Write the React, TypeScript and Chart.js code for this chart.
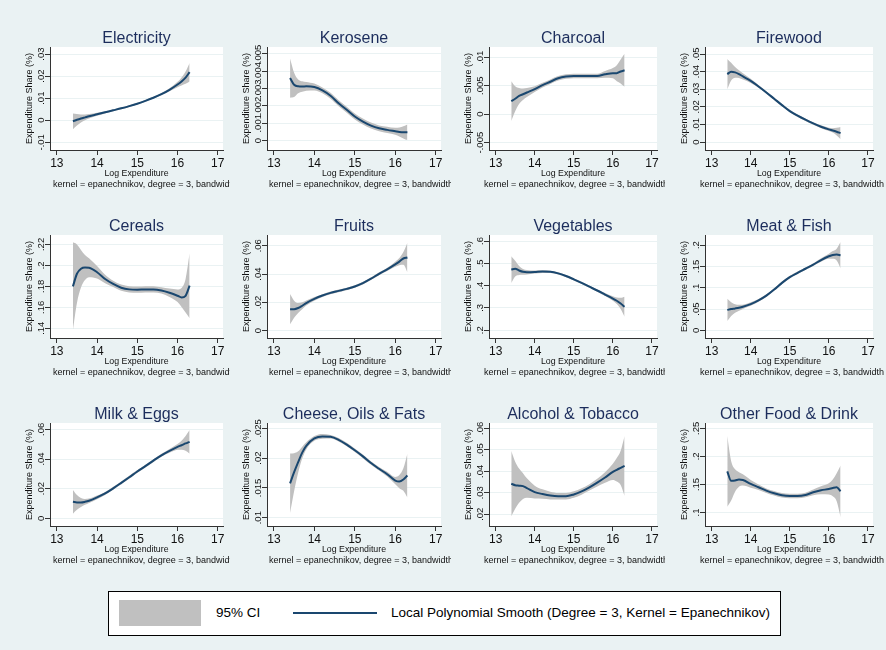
import React, { useEffect, useRef } from "react";
import { Chart, registerables } from "chart.js";

Chart.register(...registerables);

// ---------- data ----------
const logExpenditure = [13.4, 13.5, 13.6, 13.7, 13.8, 14.0, 14.2, 14.4, 14.6, 14.8, 15.0, 15.2, 15.4, 15.6, 15.8, 16.0, 16.1, 16.2, 16.3];
const xTickValues = [13, 14, 15, 16, 17];

const electricityShare = [-0.0005, 0.0002, 0.0008, 0.0013, 0.0018, 0.0027, 0.0036, 0.0045, 0.0054, 0.0064, 0.0075, 0.0088, 0.0102, 0.0118, 0.0138, 0.0162, 0.0176, 0.0193, 0.0218];
const electricityCI = [0.0036, 0.0026, 0.0018, 0.0013, 0.001, 0.0007, 0.0005, 0.0004, 0.0004, 0.0004, 0.0004, 0.0004, 0.0004, 0.0005, 0.0007, 0.0012, 0.0018, 0.0028, 0.0042];
const electricityTicks = [-0.01, 0, 0.01, 0.02, 0.03];
const electricityRange = [-0.0135, 0.0332];

const keroseneShare = [0.00361, 0.00322, 0.00313, 0.00312, 0.00313, 0.00309, 0.0029, 0.00259, 0.00216, 0.00178, 0.00139, 0.0011, 0.00087, 0.00071, 0.00062, 0.00054, 0.0005, 0.00048, 0.00048];
const keroseneCI = [0.00113, 0.0007, 0.0004, 0.0003, 0.00025, 0.0002, 0.00017, 0.00017, 0.00017, 0.00017, 0.00017, 0.00017, 0.00017, 0.00017, 0.00018, 0.0002, 0.00026, 0.00035, 0.00045];
const keroseneTicks = [0, 0.001, 0.002, 0.003, 0.004, 0.005];
const keroseneRange = [-0.00054, 0.0054];

const charcoalShare = [0.0023, 0.0027, 0.0032, 0.0035, 0.0038, 0.0044, 0.0051, 0.0057, 0.0063, 0.0066, 0.0067, 0.0067, 0.0067, 0.0067, 0.007, 0.0072, 0.0072, 0.0075, 0.0077];
const charcoalCI = [0.0035, 0.0022, 0.0014, 0.001, 0.0008, 0.0005, 0.0004, 0.0004, 0.0004, 0.0004, 0.0004, 0.0004, 0.0004, 0.0004, 0.0006, 0.0009, 0.0014, 0.0021, 0.0029];
const charcoalTicks = [-0.005, 0, 0.005, 0.01];
const charcoalRange = [-0.0063, 0.0118];

const firewoodShare = [0.0386, 0.04, 0.0396, 0.0386, 0.0373, 0.0348, 0.0316, 0.0282, 0.0246, 0.021, 0.0176, 0.015, 0.0127, 0.0106, 0.0087, 0.0072, 0.0066, 0.0059, 0.0051];
const firewoodCI = [0.0086, 0.005, 0.003, 0.0022, 0.0018, 0.0012, 0.0008, 0.0007, 0.0007, 0.0007, 0.0007, 0.0007, 0.0007, 0.0007, 0.0008, 0.0009, 0.0012, 0.0022, 0.0035];
const firewoodTicks = [0, 0.01, 0.02, 0.03, 0.04, 0.05];
const firewoodRange = [-0.0045, 0.054];

const cerealsShare = [0.18, 0.192, 0.1968, 0.198, 0.1977, 0.1935, 0.187, 0.1823, 0.1787, 0.1771, 0.1768, 0.1771, 0.1771, 0.1761, 0.1739, 0.171, 0.1694, 0.171, 0.1806];
const cerealsCI = [0.042, 0.028, 0.018, 0.012, 0.009, 0.006, 0.004, 0.003, 0.003, 0.003, 0.003, 0.003, 0.003, 0.003, 0.004, 0.006, 0.009, 0.016, 0.031];
const cerealsTicks = [0.14, 0.16, 0.18, 0.2, 0.22];
const cerealsRange = [0.1307, 0.229];

const fruitsShare = [0.0152, 0.0152, 0.016, 0.0176, 0.0195, 0.0224, 0.0248, 0.0267, 0.0281, 0.0295, 0.0312, 0.0336, 0.0367, 0.0402, 0.0433, 0.0469, 0.0488, 0.051, 0.0517];
const fruitsCI = [0.0107, 0.006, 0.0035, 0.0025, 0.0018, 0.0013, 0.001, 0.0009, 0.0009, 0.0009, 0.0009, 0.0009, 0.0009, 0.001, 0.0012, 0.0018, 0.0025, 0.0045, 0.0105];
const fruitsTicks = [0, 0.02, 0.04, 0.06];
const fruitsRange = [-0.0052, 0.0676];

const vegetablesShare = [0.472, 0.476, 0.468, 0.462, 0.46, 0.461, 0.463, 0.462, 0.455, 0.443, 0.428, 0.412, 0.395, 0.378, 0.36, 0.342, 0.332, 0.32, 0.305];
const vegetablesCI = [0.06, 0.035, 0.02, 0.013, 0.01, 0.007, 0.006, 0.005, 0.005, 0.005, 0.005, 0.005, 0.005, 0.005, 0.007, 0.01, 0.015, 0.025, 0.045];
const vegetablesTicks = [0.2, 0.3, 0.4, 0.5, 0.6];
const vegetablesRange = [0.165, 0.627];

const meatShare = [0.048, 0.0498, 0.0513, 0.053, 0.0553, 0.0616, 0.0703, 0.0814, 0.0956, 0.1114, 0.1248, 0.135, 0.1445, 0.154, 0.165, 0.1738, 0.177, 0.1777, 0.176];
const meatCI = [0.026, 0.016, 0.01, 0.007, 0.005, 0.004, 0.003, 0.003, 0.003, 0.003, 0.003, 0.003, 0.003, 0.003, 0.004, 0.006, 0.009, 0.014, 0.031];
const meatTicks = [0, 0.05, 0.1, 0.15, 0.2];
const meatRange = [-0.018, 0.2237];

const milkShare = [0.0111, 0.0107, 0.0107, 0.0111, 0.0118, 0.0141, 0.0168, 0.0202, 0.0239, 0.0277, 0.0316, 0.0352, 0.0389, 0.0425, 0.0455, 0.0482, 0.0493, 0.0505, 0.0516];
const milkCI = [0.008, 0.005, 0.003, 0.002, 0.0015, 0.0012, 0.001, 0.001, 0.001, 0.001, 0.001, 0.001, 0.001, 0.001, 0.0013, 0.002, 0.003, 0.005, 0.008];
const milkTicks = [0, 0.02, 0.04, 0.06];
const milkRange = [-0.0052, 0.0643];

const cheeseShare = [0.01577, 0.01764, 0.01934, 0.02092, 0.02206, 0.0233, 0.02364, 0.02358, 0.02308, 0.02228, 0.02132, 0.0203, 0.01917, 0.01821, 0.0173, 0.01623, 0.01606, 0.0164, 0.01708];
const cheeseCI = [0.005, 0.0032, 0.0018, 0.001, 0.0006, 0.0004, 0.0004, 0.0003, 0.0003, 0.0003, 0.0003, 0.0003, 0.0003, 0.0003, 0.0004, 0.0006, 0.0011, 0.0019, 0.0037];
const cheeseTicks = [0.01, 0.015, 0.02, 0.025];
const cheeseRange = [0.0086, 0.0259];

const alcoholShare = [0.0342, 0.0335, 0.0333, 0.0331, 0.0322, 0.0303, 0.0294, 0.0287, 0.0284, 0.0284, 0.0292, 0.0306, 0.0325, 0.0347, 0.0371, 0.0397, 0.0407, 0.0416, 0.0425];
const alcoholCI = [0.0152, 0.011, 0.008, 0.006, 0.0045, 0.003, 0.0022, 0.0018, 0.0015, 0.0015, 0.0015, 0.0015, 0.0015, 0.0018, 0.0025, 0.0038, 0.0055, 0.008, 0.014];
const alcoholTicks = [0.02, 0.03, 0.04, 0.05, 0.06];
const alcoholRange = [0.0145, 0.0625];

const otherShare = [0.1732, 0.1564, 0.157, 0.1588, 0.158, 0.151, 0.145, 0.139, 0.1342, 0.1306, 0.1294, 0.1294, 0.1312, 0.136, 0.1396, 0.142, 0.1438, 0.145, 0.1378];
const otherCI = [0.063, 0.035, 0.02, 0.013, 0.01, 0.007, 0.005, 0.004, 0.004, 0.004, 0.004, 0.004, 0.004, 0.005, 0.007, 0.01, 0.015, 0.025, 0.046];
const otherTicks = [0.1, 0.15, 0.2, 0.25];
const otherRange = [0.076, 0.2595];

const panelTitles = [
  "Electricity", "Kerosene", "Charcoal", "Firewood",
  "Cereals", "Fruits", "Vegetables", "Meat & Fish",
  "Milk & Eggs", "Cheese, Oils & Fats", "Alcohol & Tobacco", "Other Food & Drink",
];

const yTitle = "Expenditure Share (%)";
const xTitle = "Log Expenditure";
const noteText = "kernel = epanechnikov, degree = 3, bandwidth";
const legendLabels = ["95% CI", "Local Polynomial Smooth (Degree = 3, Kernel = Epanechnikov)"];

type PanelData = { title: string; mean: number[]; half: number[]; ticks: number[]; range: number[] };

const panels: PanelData[] = [
  { title: panelTitles[0], mean: electricityShare, half: electricityCI, ticks: electricityTicks, range: electricityRange },
  { title: panelTitles[1], mean: keroseneShare, half: keroseneCI, ticks: keroseneTicks, range: keroseneRange },
  { title: panelTitles[2], mean: charcoalShare, half: charcoalCI, ticks: charcoalTicks, range: charcoalRange },
  { title: panelTitles[3], mean: firewoodShare, half: firewoodCI, ticks: firewoodTicks, range: firewoodRange },
  { title: panelTitles[4], mean: cerealsShare, half: cerealsCI, ticks: cerealsTicks, range: cerealsRange },
  { title: panelTitles[5], mean: fruitsShare, half: fruitsCI, ticks: fruitsTicks, range: fruitsRange },
  { title: panelTitles[6], mean: vegetablesShare, half: vegetablesCI, ticks: vegetablesTicks, range: vegetablesRange },
  { title: panelTitles[7], mean: meatShare, half: meatCI, ticks: meatTicks, range: meatRange },
  { title: panelTitles[8], mean: milkShare, half: milkCI, ticks: milkTicks, range: milkRange },
  { title: panelTitles[9], mean: cheeseShare, half: cheeseCI, ticks: cheeseTicks, range: cheeseRange },
  { title: panelTitles[10], mean: alcoholShare, half: alcoholCI, ticks: alcoholTicks, range: alcoholRange },
  { title: panelTitles[11], mean: otherShare, half: otherCI, ticks: otherTicks, range: otherRange },
];

// ---------- style / layout ----------
const FONT = "Helvetica, Arial, 'Liberation Sans', sans-serif";
const BG = "#eaf2f3";
const CI_COLOR = "#c0c0c0";
const LINE_COLOR = "#1a476f";
const TITLE_COLOR = "#1c2d5c";
const AXIS_COLOR = "#333333";
const GRID_COLOR = "#eaf2f3";
const TEXT_COLOR = "#111111";

const COLS = [
  { left: 12, width: 218, padRight: 7, noteX: 41 },
  { left: 229, width: 222, padRight: 10, noteX: 40 },
  { left: 451, width: 214, padRight: 8, noteX: 33 },
  { left: 667, width: 219, padRight: 13, noteX: 33 },
];
const ROWS = [22, 210, 398];
const PANEL_H = 175;
const Y_AXIS_W = 38;
const X_AXIS_H = 47;
const TOP_PAD = 25;

function fmtTick(v: number): string {
  const r = Math.round(v * 1e6) / 1e6;
  return String(r).replace(/^(-?)0\./, "$1.");
}

function Panel({ p, col, row }: { p: PanelData; col: number; row: number }) {
  const ref = useRef<HTMLCanvasElement>(null);
  const c = COLS[col];
  useEffect(() => {
    if (!ref.current) return;
    const hi = p.mean.map((m, i) => m + p.half[i]);
    const lo = p.mean.map((m, i) => m - p.half[i]);
    const pts = (arr: number[]) => logExpenditure.map((x, i) => ({ x, y: arr[i] }));

    const decor = {
      id: "panelDecor",
      beforeDraw(chart: any) {
        const { ctx, chartArea: a } = chart;
        ctx.save();
        ctx.fillStyle = "#ffffff";
        ctx.fillRect(a.left, a.top, a.right - a.left, a.bottom - a.top);
        ctx.restore();
      },
      afterDraw(chart: any) {
        const { ctx, chartArea: a } = chart;
        const ys = chart.scales.y;
        ctx.save();
        // title
        ctx.fillStyle = TITLE_COLOR;
        ctx.font = `16px ${FONT}`;
        ctx.textAlign = "center";
        ctx.textBaseline = "alphabetic";
        ctx.fillText(p.title, (a.left + a.right) / 2, 21);
        // y tick labels (vertical)
        ctx.fillStyle = TEXT_COLOR;
        ctx.font = `9.5px ${FONT}`;
        for (const t of ys.ticks) {
          const y = ys.getPixelForValue(t.value);
          ctx.save();
          ctx.translate(a.left - 6, y);
          ctx.rotate(-Math.PI / 2);
          ctx.textAlign = "center";
          ctx.textBaseline = "alphabetic";
          ctx.fillText(fmtTick(t.value), 0, 0);
          ctx.restore();
        }
        // y title
        ctx.save();
        ctx.font = `9px ${FONT}`;
        ctx.translate(a.left - 18.5, (a.top + a.bottom) / 2);
        ctx.rotate(-Math.PI / 2);
        ctx.textAlign = "center";
        ctx.textBaseline = "alphabetic";
        ctx.fillText(yTitle, 0, 0);
        ctx.restore();
        // x title
        ctx.font = `8.8px ${FONT}`;
        ctx.textAlign = "center";
        ctx.fillText(xTitle, (a.left + a.right) / 2, a.bottom + 26);
        // note
        ctx.font = `9px ${FONT}`;
        ctx.textAlign = "left";
        ctx.fillText(noteText, c.noteX, a.bottom + 37);
        ctx.restore();
      },
    };

    const chart = new Chart(ref.current, {
      type: "line",
      data: {
        datasets: [
          { data: pts(p.mean), borderWidth: 2, borderColor: LINE_COLOR, pointRadius: 0, fill: false, cubicInterpolationMode: "monotone" },
          { data: pts(hi), borderWidth: 0, borderColor: "rgba(0,0,0,0)", pointRadius: 0, fill: false, cubicInterpolationMode: "monotone" },
          { data: pts(lo), borderWidth: 0, borderColor: "rgba(0,0,0,0)", pointRadius: 0, fill: "-1", backgroundColor: CI_COLOR, cubicInterpolationMode: "monotone" },
        ],
      } as any,
      options: {
        animation: false,
        responsive: false,
        maintainAspectRatio: false,
        events: [],
        layout: { padding: { top: TOP_PAD, left: 0, right: c.padRight, bottom: 0 } },
        plugins: { legend: { display: false }, tooltip: { enabled: false }, title: { display: false } },
        scales: {
          x: {
            type: "linear",
            min: 12.83,
            max: 17.13,
            afterBuildTicks: (s: any) => { s.ticks = xTickValues.map((v) => ({ value: v })); },
            afterFit: (s: any) => { s.height = X_AXIS_H; },
            grid: { drawOnChartArea: false, tickLength: 5, tickColor: AXIS_COLOR },
            border: { color: AXIS_COLOR, width: 1 },
            ticks: { font: { family: FONT, size: 12 }, color: TEXT_COLOR, padding: 1, maxRotation: 0, autoSkip: false, callback: (v: any) => String(v) },
          },
          y: {
            type: "linear",
            min: p.range[0],
            max: p.range[1],
            afterBuildTicks: (s: any) => { s.ticks = p.ticks.map((v) => ({ value: v })); },
            afterFit: (s: any) => { s.width = Y_AXIS_W; },
            grid: { color: GRID_COLOR, lineWidth: 1, tickLength: 5, tickColor: AXIS_COLOR },
            border: { color: AXIS_COLOR, width: 1 },
            ticks: { display: false },
          },
        },
      } as any,
      plugins: [decor],
    });
    return () => chart.destroy();
  }, []);
  return (
    <canvas
      ref={ref}
      width={c.width}
      height={PANEL_H}
      style={{ position: "absolute", left: c.left, top: ROWS[row], width: c.width, height: PANEL_H }}
    />
  );
}

export default function App() {
  return (
    <div style={{ position: "absolute", left: 0, top: 0, width: 886, height: 650, background: BG, overflow: "hidden", fontFamily: FONT }}>
      {panels.map((p, i) => (
        <Panel key={i} p={p} col={i % 4} row={Math.floor(i / 4)} />
      ))}
      <div style={{ position: "absolute", left: 108, top: 591, width: 673, height: 45, background: "#fff", border: "1px solid #000", boxSizing: "border-box" }}>
        <div style={{ position: "absolute", left: 10, top: 8, width: 82, height: 26, background: CI_COLOR }} />
        <div style={{ position: "absolute", left: 107, top: 13, fontSize: 13.5, lineHeight: "16px", color: "#000", whiteSpace: "nowrap" }}>{legendLabels[0]}</div>
        <div style={{ position: "absolute", left: 184, top: 20, width: 84, height: 2, background: LINE_COLOR }} />
        <div style={{ position: "absolute", left: 282, top: 13, fontSize: 13.5, lineHeight: "16px", color: "#000", whiteSpace: "nowrap" }}>{legendLabels[1]}</div>
      </div>
    </div>
  );
}
